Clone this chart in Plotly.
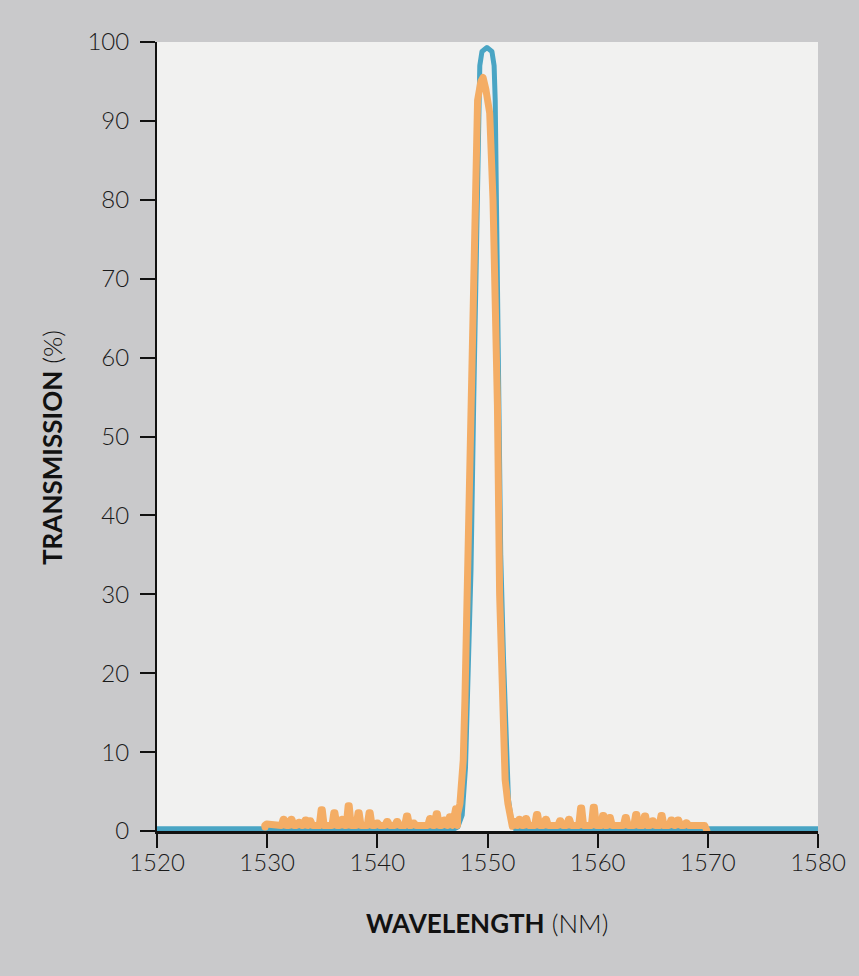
import plotly.graph_objects as go

# Blue: filter transmission (design)
blue_x = [1520, 1547.0, 1547.3, 1547.7, 1548.0, 1548.2, 1548.5, 1548.75, 1549.0, 1549.2, 1549.3, 1549.5,
          1549.95, 1550.4, 1550.6, 1550.7, 1550.8, 1550.95, 1551.2, 1551.45, 1551.7, 1551.9, 1552.2, 1552.5, 1580]
blue_y = [0.3, 0.3, 0.5, 2.0, 8.0, 16.6, 33.0, 54.6, 78.0, 92.6, 97.0, 98.8,
          99.3, 98.8, 97.0, 92.6, 80.0, 54.6, 35.0, 22.0, 14.0, 4.0, 1.0, 0.3, 0.3]

# Orange: measured transmission -- noise bumps (centre wavelength, height) and the main peak
noise_left_x = [1530.0, 1530.7, 1531.5, 1532.2, 1532.9, 1533.5, 1533.9, 1534.95, 1536.1, 1536.8, 1537.4,
                1538.3, 1539.3, 1540.0, 1540.9, 1541.8, 1542.7, 1543.3, 1544.0, 1544.8, 1545.4, 1546.1,
                1546.6, 1547.05]
noise_left_y = [0.9, 0.9, 1.5, 1.5, 1.1, 1.4, 1.3, 2.7, 2.3, 1.5, 3.2,
                2.3, 2.3, 1.0, 1.2, 1.2, 1.9, 1.0, 0.7, 1.6, 2.2, 1.4,
                1.8, 2.8]
peak_x = [1547.3, 1547.5, 1547.8, 1547.95, 1548.2, 1548.5, 1548.85, 1549.1, 1549.4, 1549.6, 1549.85,
          1550.2, 1550.5, 1550.9, 1551.1, 1551.3, 1551.6, 1551.85, 1552.0, 1552.25]
peak_y = [2.2, 3.5, 9.0, 16.6, 32.0, 54.6, 80.0, 92.6, 95.0, 95.5, 94.0,
          91.0, 80.0, 54.0, 30.0, 16.6, 6.5, 3.5, 2.0, 0.6]
noise_right_x = [1552.5, 1552.9, 1553.5, 1554.5, 1555.3, 1555.9, 1556.6, 1557.4, 1558.5, 1559.65, 1560.5,
                 1561.1, 1561.85, 1562.55, 1563.5, 1564.3, 1565.0, 1565.8, 1566.7, 1567.3, 1568.05,
                 1569.0, 1569.5]
noise_right_y = [1.2, 1.5, 1.6, 2.1, 1.5, 0.9, 1.3, 1.5, 2.9, 3.0, 1.95,
                 1.7, 0.9, 1.7, 2.1, 1.9, 1.3, 1.95, 1.4, 1.4, 1.05,
                 0.6, 0.5]
noise_floor = 0.7
bump_half_width = 0.22


def expand(xs, ys):
    ox, oy = [], []
    for c, h in zip(xs, ys):
        ox += [c - bump_half_width, c - 0.05, c + 0.05, c + bump_half_width]
        oy += [noise_floor, h, h, noise_floor]
    return ox, oy


lx, ly = expand(noise_left_x, noise_left_y)
rx, ry = expand(noise_right_x, noise_right_y)
orange_x = [1529.8] + lx + peak_x + rx + [1569.9]
orange_y = [0.5] + ly + peak_y + ry + [0.1]

x_ticks = [1520, 1530, 1540, 1550, 1560, 1570, 1580]
y_ticks = [0, 10, 20, 30, 40, 50, 60, 70, 80, 90, 100]

x_title = "<b>WAVELENGTH</b> (NM)"
y_title = "<b>TRANSMISSION</b> (%)"

FONT = "Lato"
PLOT_L, PLOT_R, PLOT_T, PLOT_B = 157, 818, 42, 831
W, H = 859, 976
PW, PH = PLOT_R - PLOT_L, PLOT_B - PLOT_T

fig = go.Figure()
fig.add_trace(go.Scatter(x=blue_x, y=blue_y, mode="lines",
                         line=dict(color="#4aa5c4", width=5), hoverinfo="skip"))
fig.add_trace(go.Scatter(x=orange_x, y=orange_y, mode="lines",
                         line=dict(color="#f4ad65", width=7),
                         hoverinfo="skip"))

fig.update_layout(
    width=W, height=H,
    margin=dict(l=PLOT_L, r=W - PLOT_R, t=PLOT_T, b=H - PLOT_B),
    paper_bgcolor="#c9c9cb",
    plot_bgcolor="#f1f1f0",
    showlegend=False,
    font=dict(family=FONT, color="#1a1a1a", size=24, weight=300),
)
fig.update_xaxes(
    range=[1520, 1580], tickvals=x_ticks, ticktext=[str(v) for v in x_ticks],
    showgrid=False, zeroline=False,
    showline=True, linecolor="#111111", linewidth=3,
    ticks="outside", ticklen=14, tickwidth=2, tickcolor="#111111",
    tickfont=dict(family=FONT, size=24, weight=300, color="#1a1a1a"),
    ticklabelstandoff=-6,
)
fig.update_yaxes(
    range=[0, 100], tickvals=y_ticks, ticktext=[str(v) for v in y_ticks],
    showgrid=False, zeroline=False,
    showline=True, linecolor="#111111", linewidth=2,
    ticks="outside", ticklen=15, tickwidth=2, tickcolor="#111111",
    tickfont=dict(family=FONT, size=24, weight=300, color="#1a1a1a"),
    ticklabelstandoff=6,
)

fig.add_annotation(
    text=x_title, xref="paper", yref="paper",
    x=(487 - PLOT_L) / PW, y=(PLOT_B - 923) / PH,
    xanchor="center", yanchor="middle", showarrow=False,
    font=dict(family=FONT, size=26, weight=300, color="#111111"),
)
fig.add_annotation(
    text=y_title, xref="paper", yref="paper", textangle=-90,
    x=(52 - PLOT_L) / PW, y=(PLOT_B - 448) / PH,
    xanchor="center", yanchor="middle", showarrow=False,
    font=dict(family=FONT, size=26, weight=300, color="#111111"),
)

post = (
    "document.body.style.margin='0';document.body.style.overflow='hidden';"
    "document.querySelectorAll('path.js-line').forEach(function(p){"
    "p.style.strokeLinejoin='round';p.style.strokeLinecap='round';});"
)
fig.write_html("out.html", post_script=post, config={"displayModeBar": False})
